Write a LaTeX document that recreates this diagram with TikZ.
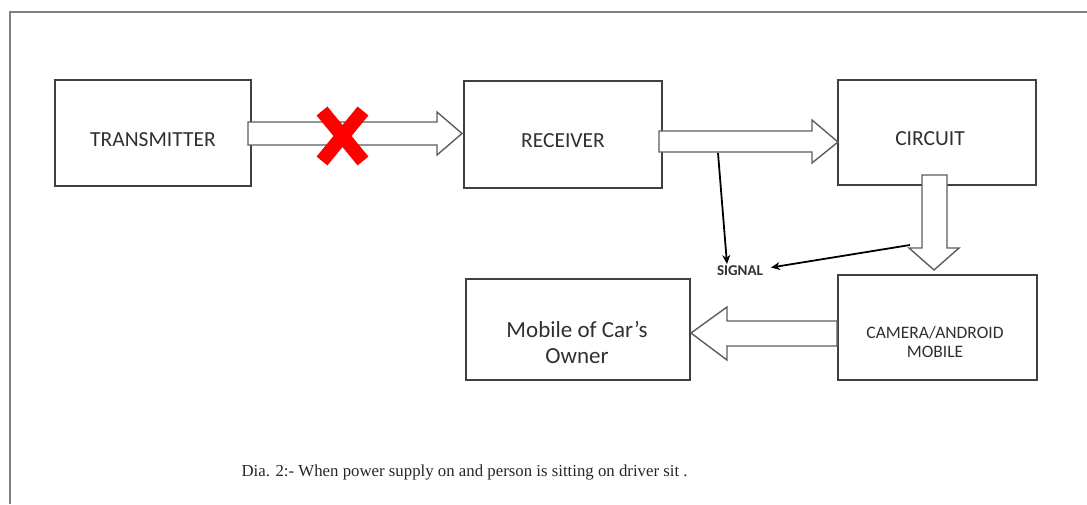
\documentclass[tikz,border=0pt]{standalone}
\usepackage{fontspec}
\setmainfont{Carlito}
\newfontfamily\capfont{Liberation Serif}
\usetikzlibrary{arrows.meta}
\definecolor{boxline}{HTML}{404040}
\definecolor{txt}{HTML}{303030}
\tikzset{
  box/.style={draw=boxline, line width=1.6pt, inner sep=0pt, fill=white},
  lbl/.style={text=txt, font=\fontsize{21.5}{24}\selectfont, align=center},
  blockarrow/.style={draw=boxline!85, line width=1.4pt, fill=white, line join=miter},
  thin/.style={draw=black, line width=1.8pt, -{Stealth[length=9pt,width=8pt]}},
}
\begin{document}
\begin{tikzpicture}[x=1pt,y=-1pt]
\useasboundingbox (0,0) rectangle (1087,504);
\draw[draw=gray, line width=2pt] (10,504) -- (10,12) -- (1087,12);

% boxes
\node[box, minimum width=196pt, minimum height=106pt] (tx) at (153,133) {};
\node[box, minimum width=198pt, minimum height=107pt] (rx) at (563,134.5) {};
\node[box, minimum width=198pt, minimum height=105pt] (ci) at (937,132.5) {};
\node[box, minimum width=199pt, minimum height=105pt] (cam) at (937.5,327.5) {};
\node[box, minimum width=224pt, minimum height=101pt] (mob) at (578,329.5) {};

\node[lbl] (txl) at (153,140) {TRANSMITTER};
\node[lbl] (rxl) at (563,141) {RECEIVER};
\node[lbl] (cil) at (930,139) {CIRCUIT};
\node[lbl, font=\fontsize{17.5}{19.5}\selectfont] (caml) at (935,342) {CAMERA/ANDROID\\MOBILE};
\node[lbl, font=\fontsize{23}{26}\selectfont] (mobl) at (577,342) {Mobile of Car’s\\Owner};

% block arrows
\draw[blockarrow] (248,122) -- (437,122) -- (437,112) -- (462,133.5) -- (437,155) -- (437,145) -- (248,145) -- cycle;
\draw[blockarrow] (659,131) -- (812,131) -- (812,120) -- (838,142) -- (812,163) -- (812,152) -- (659,152) -- cycle;
\draw[blockarrow] (922,175) -- (947,175) -- (947,248) -- (959,248) -- (934,270) -- (909,248) -- (922,248) -- cycle;
\draw[blockarrow] (837,321) -- (727,321) -- (727,307) -- (691,333) -- (727,360) -- (727,346) -- (837,346) -- cycle;

% red cross
\draw[red, line width=14pt] (322,111) -- (363,161);
\draw[red, line width=14pt] (363,111) -- (322,161);

% signal
\node[text=txt, font=\bfseries\fontsize{15}{17}\selectfont, inner sep=1pt] (sig) at (740,271) {SIGNAL};
\coordinate (s1) at (718,153);
\coordinate (s1t) at (727,264);
\coordinate (s2) at (910,245);
\coordinate (s2t) at (771,267.5);
\draw[thin] (s1) -- (s1t);
\draw[thin] (s2) -- (s2t);

% caption
\node[anchor=west, font=\capfont\fontsize{16.8}{19}\selectfont, text=black!85] (cap) at (238,472) {Dia. 2:- When power supply on and person is sitting on driver sit .};
\end{tikzpicture}
\end{document}
